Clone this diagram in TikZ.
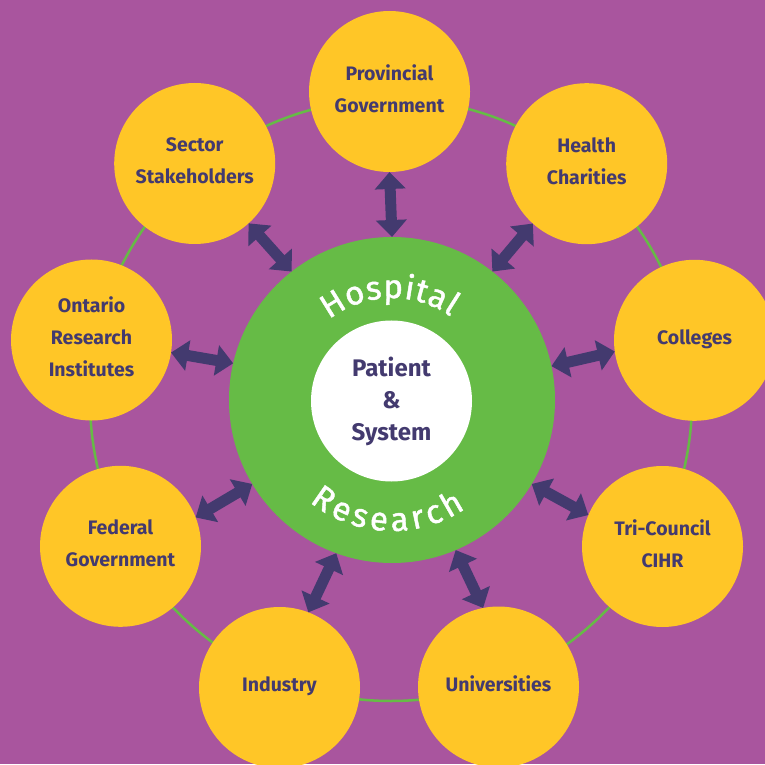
\documentclass[tikz,border=0pt]{standalone}
\usepackage{fontspec}
\setmainfont{Fira Sans}
\newfontfamily\arcfont{Fira Sans}[FakeBold=1.3]
\usetikzlibrary{arrows.meta,decorations.text,calc}
\definecolor{bgp}{RGB}{169,85,158}
\definecolor{yel}{RGB}{255,198,39}
\definecolor{grn}{RGB}{102,187,70}
\definecolor{ink}{RGB}{67,58,111}
\tikzset{
  party/.style={circle, fill=yel, minimum size=161pt, inner sep=0pt, outer sep=0pt,
    text=ink, font=\bfseries\fontsize{19.5}{32}\selectfont, align=center,
    execute at end node={\rule[-6pt]{0pt}{6pt}}},
  link/.style={draw=ink, line width=11pt,
    {Triangle[width=30pt,length=17pt]}-{Triangle[width=30pt,length=17pt]}},
  arctext/.style={decorate, decoration={text along path,
    text={|\arcfont\fontsize{33}{33}\selectfont\color{white}|#1}, text align={fit to path}}}
}
\begin{document}
\begin{tikzpicture}[x=1pt,y=1pt]
\clip (0,0) rectangle (765,764);
\fill[bgp] (0,0) rectangle (765,764);
\node[circle, draw=grn, line width=2.5pt, minimum size=602pt, inner sep=0pt, outer sep=0pt] (ring) at (391,364) {};
\node[circle, fill=grn, minimum size=326pt, inner sep=0pt, outer sep=0pt] (hub) at (392,364) {};
\node[circle, fill=white, minimum size=161pt, inner sep=0pt, outer sep=0pt, text=ink,
  font=\bfseries\fontsize{24}{32}\selectfont, align=center] (core) at (391.5,363) {Patient\\\&\\System};
\node[party] (prov) at (389.5,672.5) {Provincial\\Government};
\node[party] (health) at (586.7,600.3) {Health\\Charities};
\node[party] (coll) at (694.5,423.7) {Colleges};
\node[party] (tri) at (662.5,217.5) {Tri-Council\\CIHR};
\node[party] (univ) at (498.5,77) {Universities};
\node[party] (ind) at (279.5,76.5) {Industry};
\node[party] (fed) at (120.5,217.7) {Federal\\Government};
\node[party] (ont) at (91.5,424) {Ontario\\Research\\Institutes};
\node[party] (sect) at (194.7,600.5) {Sector\\Stakeholders};
\draw[link] (prov.270) -- (hub.90);
\draw[link] (health.228) -- (hub.52);
\draw[link] (coll.188) -- (hub.12);
\draw[link] (tri.157) -- (hub.329);
\draw[link] (univ.101) -- (hub.293);
\draw[link] (ind.69) -- (hub.250);
\draw[link] (fed.21) -- (hub.211);
\draw[link] (ont.351) -- (hub.167);
\draw[link] (sect.312) -- (hub.128);
\path[arctext=Hospital] ($(hub.center)+(128:102)$) arc[start angle=128, end angle=55, radius=102];
\path[arctext=Research] ($(hub.center)+(231:131)$) arc[start angle=231, end angle=304, radius=131];
\end{tikzpicture}
\end{document}
